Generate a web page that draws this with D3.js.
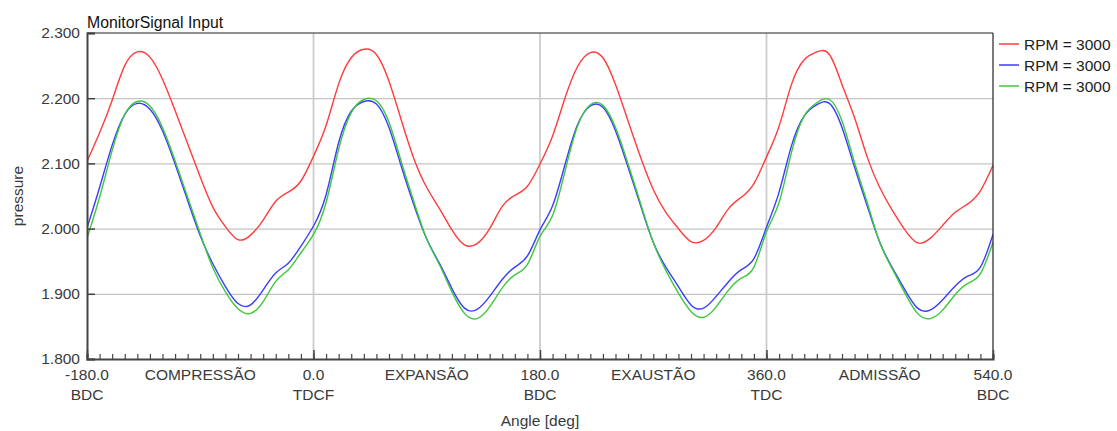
<!DOCTYPE html>
<html>
<head>
<meta charset="utf-8">
<script src="https://cdn.jsdelivr.net/npm/d3@7"></script>
<style>
  html, body { margin: 0; padding: 0; background: #fff; }
  svg { display: block; }
  text { font-family: "Liberation Sans", Arial, sans-serif; }
</style>
</head>
<body>
<svg id="chart" width="1117" height="431"></svg>
<script>
const title = "MonitorSignal Input";
const yLabel = "pressure";
const xLabel = "Angle [deg]";
const seriesNames = ["RPM = 3000", "RPM = 3000", "RPM = 3000"];
const seriesColors = ["#ff3c3c", "#3c3cff", "#3cc83c"];

const angles = [-180,-170,-160,-150,-140,-130,-120,-110,-100,-90,-80,-70,-60,-50,-40,-30,-20,-10,
  0,10,20,30,40,50,60,70,80,90,100,110,120,130,140,150,160,170,
  180,190,200,210,220,230,240,250,260,270,280,290,300,310,320,330,340,350,
  360,370,380,390,400,410,420,430,440,450,460,470,480,490,500,510,520,530,540];

const red = [2.103,2.147,2.197,2.250,2.271,2.263,2.229,2.181,2.130,2.079,2.033,2.003,1.983,1.990,2.013,2.042,2.056,2.073,
  2.111,2.158,2.222,2.262,2.275,2.267,2.226,2.165,2.106,2.063,2.031,1.998,1.975,1.977,2.000,2.034,2.051,2.065,
  2.099,2.142,2.201,2.249,2.270,2.262,2.221,2.165,2.109,2.060,2.025,2.000,1.980,1.982,2.002,2.031,2.048,2.069,
  2.110,2.157,2.222,2.259,2.271,2.267,2.221,2.170,2.110,2.063,2.028,1.998,1.978,1.985,2.005,2.025,2.038,2.058,2.097];

const blue = [2.001,2.063,2.128,2.175,2.192,2.183,2.150,2.099,2.043,1.989,1.946,1.911,1.885,1.883,1.906,1.932,1.947,1.973,
  2.004,2.052,2.132,2.180,2.195,2.191,2.155,2.094,2.035,1.984,1.947,1.908,1.878,1.876,1.896,1.922,1.941,1.958,
  1.998,2.035,2.099,2.160,2.188,2.186,2.150,2.094,2.035,1.979,1.941,1.911,1.883,1.878,1.896,1.919,1.937,1.954,
  2.002,2.056,2.128,2.173,2.190,2.192,2.155,2.094,2.035,1.979,1.940,1.906,1.878,1.875,1.891,1.912,1.927,1.941,1.991];

const green = [1.985,2.048,2.120,2.175,2.195,2.188,2.155,2.104,2.048,1.992,1.940,1.903,1.877,1.870,1.888,1.919,1.937,1.963,
  1.991,2.040,2.122,2.178,2.198,2.196,2.163,2.101,2.040,1.984,1.945,1.903,1.870,1.862,1.880,1.909,1.929,1.945,
  1.988,2.020,2.089,2.158,2.190,2.189,2.155,2.099,2.038,1.979,1.936,1.901,1.873,1.864,1.880,1.906,1.924,1.941,
  1.995,2.040,2.118,2.173,2.193,2.198,2.165,2.101,2.040,1.979,1.938,1.901,1.870,1.862,1.875,1.899,1.916,1.931,1.979];

const yTicks = [1.8, 1.9, 2.0, 2.1, 2.2, 2.3];
const xMajorTicks = [-180, 0, 180, 360, 540];
const xMajorLabels = [["-180.0","BDC"],["0.0","TDCF"],["180.0","BDC"],["360.0","TDC"],["540.0","BDC"]];
const phaseAngles = [-90, 90, 270, 450];
const phaseLabels = ["COMPRESSÃO", "EXPANSÃO", "EXAUSTÃO", "ADMISSÃO"];
const xMinorTicks = angles;

const svg = d3.select("#chart");
const m = { left: 87, right: 993, top: 33, bottom: 359 };
const x = d3.scaleLinear().domain([-180, 540]).range([m.left, m.right]);
const y = d3.scaleLinear().domain([1.8, 2.3]).range([m.bottom, m.top]);

// gridlines
const grid = svg.append("g");
grid.selectAll("line.h").data(yTicks.slice(1, -1)).join("line")
  .attr("x1", m.left).attr("x2", m.right)
  .attr("y1", d => y(d) + 0.5).attr("y2", d => y(d) + 0.5)
  .attr("stroke", "#c4c4c4").attr("stroke-width", 1.2);
grid.selectAll("line.v").data(xMajorTicks.slice(1, -1)).join("line")
  .attr("y1", m.top).attr("y2", m.bottom)
  .attr("x1", d => x(d)).attr("x2", d => x(d))
  .attr("stroke", "#cccccc").attr("stroke-width", 1.8);

// series
svg.append("clipPath").attr("id", "clip").append("rect")
  .attr("x", m.left).attr("y", m.top).attr("width", m.right - m.left).attr("height", m.bottom - m.top);
const line = d3.line().x((d, i) => x(angles[i])).y(d => y(d)).curve(d3.curveNatural);
const series = [red, blue, green];
svg.append("g").attr("clip-path", "url(#clip)")
  .selectAll("path").data(series).join("path")
  .attr("d", d => line(d)).attr("fill", "none")
  .attr("stroke", (d, i) => seriesColors[i]).attr("stroke-width", 1.4);

// frame
svg.append("line").attr("x1", m.left).attr("x2", m.right).attr("y1", m.top).attr("y2", m.top)
  .attr("stroke", "#222").attr("stroke-width", 1.2);
svg.append("line").attr("x1", m.right).attr("x2", m.right).attr("y1", m.top).attr("y2", m.bottom)
  .attr("stroke", "#222").attr("stroke-width", 1.2);

// y axis
const yAxis = d3.axisLeft(y).tickValues(yTicks).tickSize(-8).tickPadding(7).tickFormat(d3.format(".3f"));
const gy = svg.append("g").attr("transform", `translate(${m.left},0)`).call(yAxis);
gy.select(".domain").attr("stroke", "#444").attr("stroke-width", 2);
gy.selectAll(".tick line").attr("stroke", "#444").attr("stroke-width", 1.5);
gy.selectAll(".tick text").attr("font-size", 15.5).attr("fill", "#3a3a3a")
  .attr("font-family", "Liberation Sans, Arial, sans-serif");

// x axis minor & major ticks
const gxMinor = svg.append("g").attr("transform", `translate(0,${m.bottom})`)
  .call(d3.axisBottom(x).tickValues(xMinorTicks).tickSize(-5).tickFormat(""));
gxMinor.select(".domain").attr("stroke", "#444").attr("stroke-width", 2);
gxMinor.selectAll(".tick line").attr("stroke", "#444").attr("stroke-width", 1.2);
const gxMajor = svg.append("g").attr("transform", `translate(0,${m.bottom})`)
  .call(d3.axisBottom(x).tickValues(xMajorTicks).tickSize(-9).tickFormat(""));
gxMajor.select(".domain").remove();
gxMajor.selectAll(".tick line").attr("stroke", "#444").attr("stroke-width", 1.5);

// x labels
const xl = svg.append("g").attr("font-size", 15.5).attr("fill", "#3a3a3a").attr("text-anchor", "middle");
xMajorTicks.forEach((a, i) => {
  xl.append("text").attr("x", x(a)).attr("y", 380).text(xMajorLabels[i][0]);
  xl.append("text").attr("x", x(a)).attr("y", 400).text(xMajorLabels[i][1]);
});
phaseAngles.forEach((a, i) => {
  xl.append("text").attr("x", x(a)).attr("y", 380).text(phaseLabels[i]);
});

// axis titles
svg.append("text").attr("x", (m.left + m.right) / 2).attr("y", 426).attr("text-anchor", "middle")
  .attr("font-size", 15.5).attr("fill", "#3a3a3a").text(xLabel);
svg.append("text").attr("transform", `translate(23,${(m.top + m.bottom) / 2}) rotate(-90)`)
  .attr("text-anchor", "middle").attr("font-size", 15.5).attr("fill", "#3a3a3a").text(yLabel);

// chart title
svg.append("text").attr("x", m.left).attr("y", 28).attr("font-size", 15.8).attr("fill", "#111").text(title);

// legend
const lg = svg.append("g");
seriesNames.forEach((n, i) => {
  const yy = 44 + i * 21;
  lg.append("line").attr("x1", 999).attr("x2", 1019).attr("y1", yy).attr("y2", yy)
    .attr("stroke", seriesColors[i]).attr("stroke-width", 1.5);
  lg.append("text").attr("x", 1024).attr("y", yy + 6).attr("font-size", 15.5).attr("fill", "#222").text(n);
});
</script>
</body>
</html>
